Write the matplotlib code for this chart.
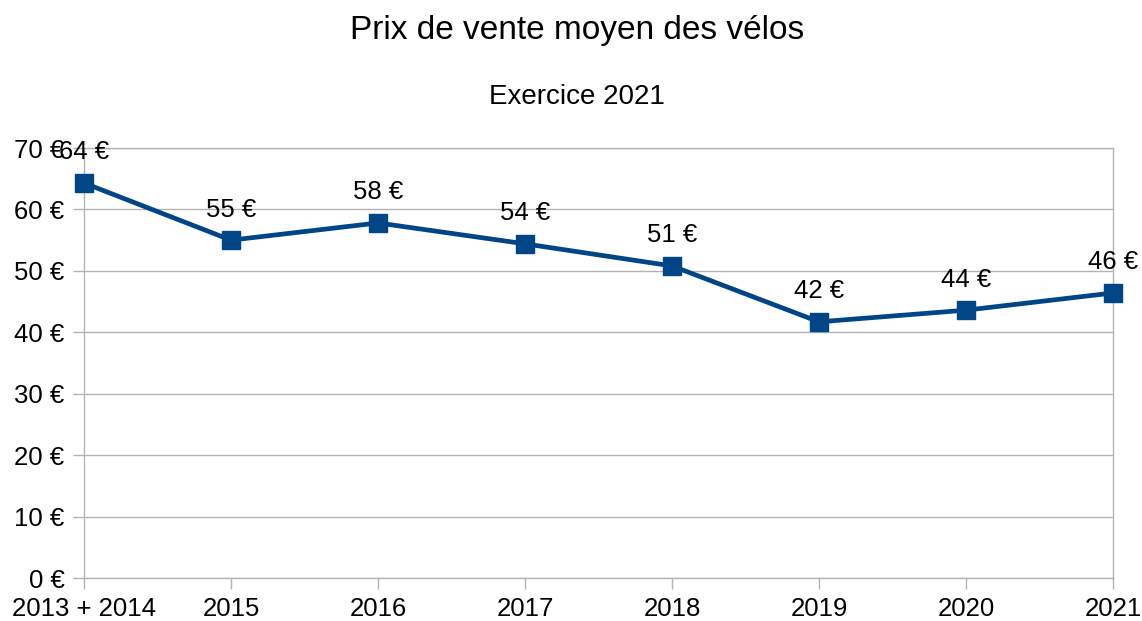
import matplotlib
matplotlib.use("Agg")
import matplotlib.pyplot as plt

annees = ["2013 + 2014", "2015", "2016", "2017", "2018", "2019", "2020", "2021"]
prix = [64.3, 55.0, 57.8, 54.4, 50.8, 41.7, 43.6, 46.4]
graduations = [0, 10, 20, 30, 40, 50, 60, 70]

plt.rcParams['font.family'] = ['Liberation Sans', 'DejaVu Sans']
gris = "#b3b3b3"
bleu = "#004586"

fig = plt.figure(figsize=(11.42, 6.21), dpi=100)
ax = fig.add_axes([84 / 1142, 1 - 578 / 621, (1113 - 84) / 1142, (578 - 148) / 621])

x = list(range(len(annees)))
ax.plot(x, prix, color=bleu, linewidth=3.4, marker="s", markersize=13, zorder=3, clip_on=False)

for xi, v in zip(x, prix):
    ax.annotate("%d €" % round(v), (xi, v), xytext=(0, 22), textcoords="offset points",
                ha="center", va="center", fontsize=18.5, color="black", zorder=4)

ax.set_xlim(0, len(annees) - 1)
ax.set_ylim(0, 70)
ax.set_xticks(x)
ax.set_xticklabels(annees, fontsize=18.5)
ax.set_yticks(graduations)
ax.set_yticklabels(["%d €" % g for g in graduations], fontsize=18.5)
ax.grid(axis="y", color=gris, linewidth=1)
ax.set_axisbelow(True)
for s in ax.spines.values():
    s.set_color(gris)
    s.set_linewidth(1)
ax.tick_params(length=8, width=1, color=gris)
ax.tick_params(axis="x", pad=6)
ax.tick_params(axis="y", pad=6)

fig.text(577 / 1142, 1 - 31 / 621, "Prix de vente moyen des vélos", ha="center", va="center", fontsize=24)
fig.text(577 / 1142, 1 - 97 / 621, "Exercice 2021", ha="center", va="center", fontsize=20)

fig.savefig("out.png", dpi=100)
